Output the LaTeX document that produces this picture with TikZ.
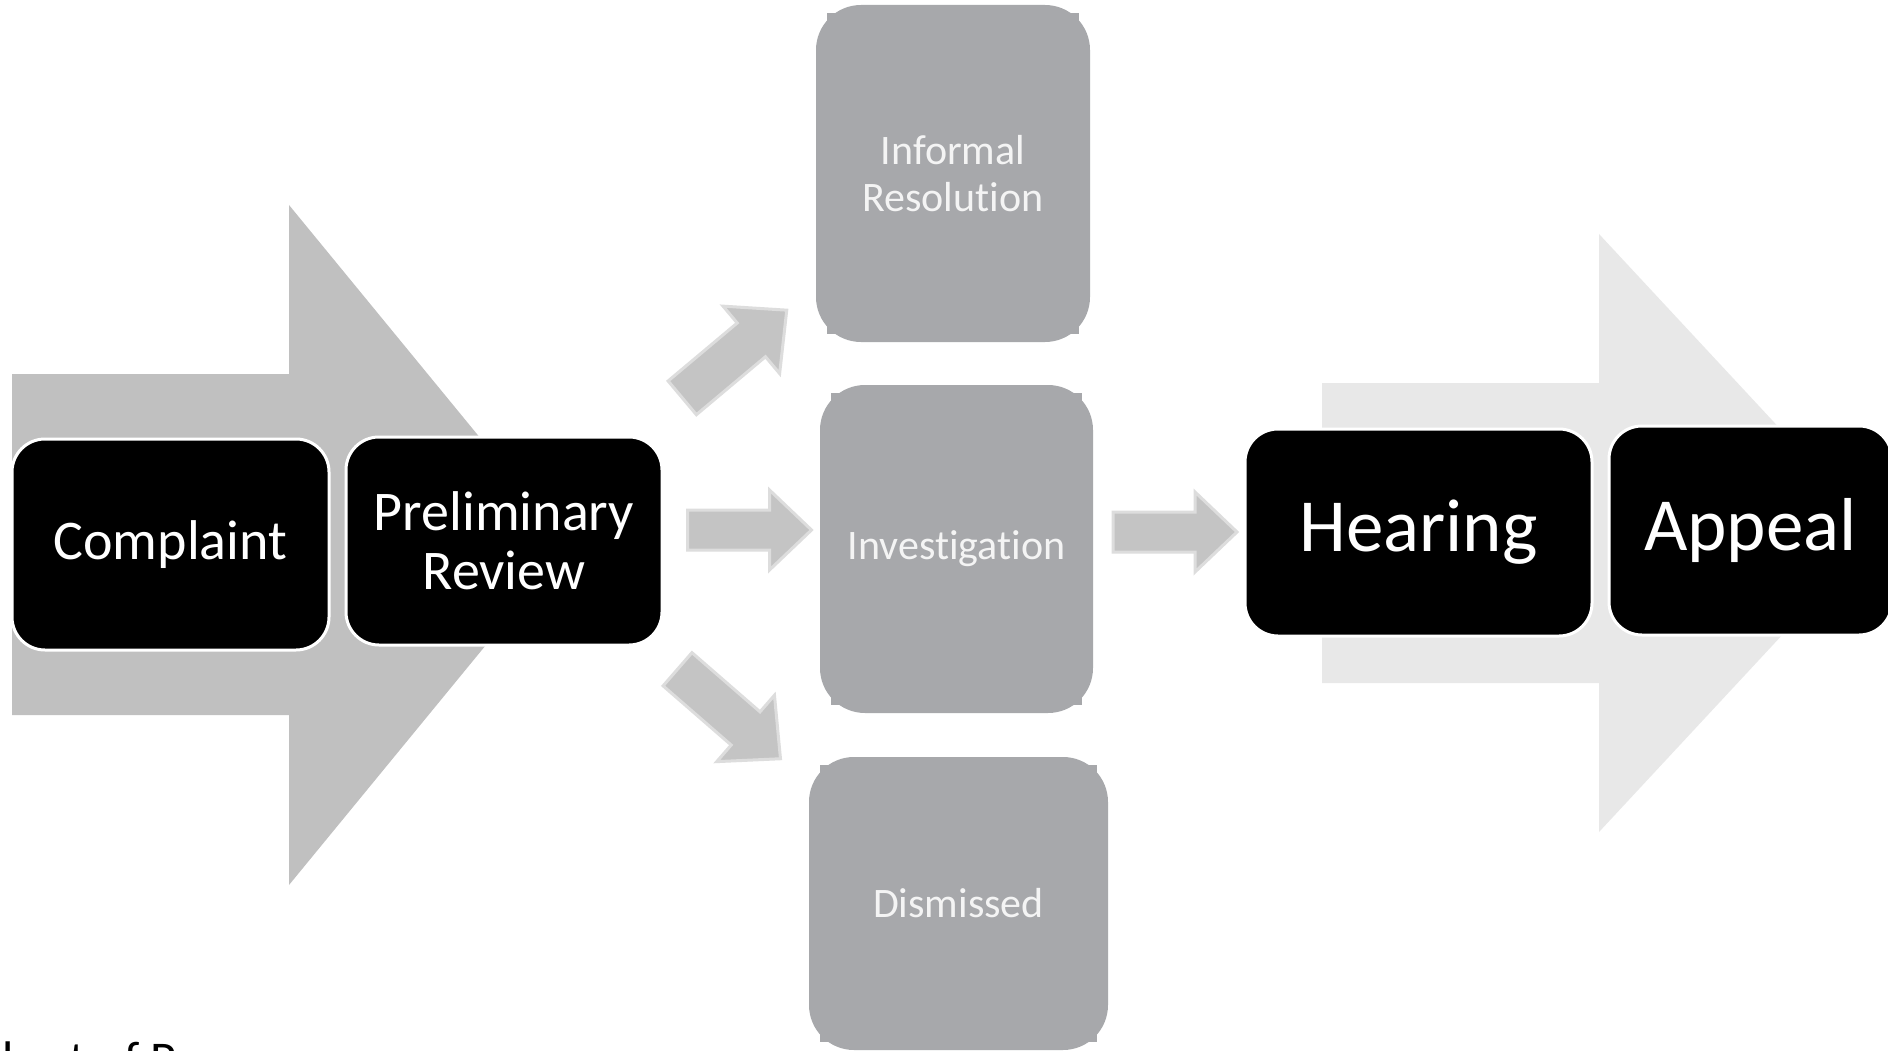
\documentclass[tikz,border=0pt]{standalone}
\usepackage{fontspec}
\setmainfont{Carlito}[Ligatures=NoCommon]
\definecolor{bigL}{RGB}{192,192,192}
\definecolor{bigR}{RGB}{232,232,232}
\definecolor{boxgray}{RGB}{167,168,171}
\definecolor{arrfill}{RGB}{196,196,196}
\definecolor{arredge}{RGB}{221,221,221}
\definecolor{gtext}{RGB}{244,244,244}
\newcommand\gtabs[1]{%
  \fill[boxgray] ([xshift=11pt,yshift=-8pt]#1.north west) rectangle ++(10pt,-10pt);
  \fill[boxgray] ([xshift=-11pt,yshift=-8pt]#1.north east) rectangle ++(-10pt,-10pt);
  \fill[boxgray] ([xshift=11pt,yshift=8pt]#1.south west) rectangle ++(10pt,10pt);
  \fill[boxgray] ([xshift=-11pt,yshift=8pt]#1.south east) rectangle ++(-10pt,10pt);}
\begin{document}
\begin{tikzpicture}[x=1pt,y=-1pt,
  blackbox/.style={rectangle, rounded corners=33pt, fill=black, draw=white, line width=3pt,
    text=white, align=center, inner sep=0pt},
  graybox/.style={rectangle, rounded corners=45pt, fill=boxgray, draw=none,
    text=gtext, align=center, inner sep=0pt, font=\fontsize{42}{47}\selectfont},
  smallfont/.style={font=\fontsize{56}{59}\selectfont},
  bigfont/.style={font=\fontsize{75}{80}\selectfont},
  smallarr/.style={fill=arrfill, draw=arredge, line width=3pt},
  blockarr/.pic={\draw[smallarr] (-62,-20) -- (20,-20) -- (20,-40) -- (62,0) -- (20,40) -- (20,20) -- (-62,20) -- cycle;}
]
\useasboundingbox (0,0) rectangle (1888,1051);
\fill[white] (0,0) rectangle (1888,1051);

% background big arrows
\fill[bigL] (12,374) -- (289,374) -- (289,205) -- (568,545) -- (289,885) -- (289,715) -- (12,715) -- cycle;
\fill[bigR] (1322,383) -- (1599,383) -- (1599,234) -- (1877,533) -- (1599,832) -- (1599,683) -- (1322,683) -- cycle;

% small block arrows
\pic[rotate=40, scale=1.1] at (734.5,354) {blockarr};
\pic at (749.5,530) {blockarr};
\pic[rotate=-41, scale=1.1] at (729,714) {blockarr};
\pic at (1175,532) {blockarr};

% black boxes
\node[blackbox, smallfont, minimum width=317pt, minimum height=211pt] (complaint) at (170.5,544.5) {\raisebox{-2pt}{Complaint}};
\node[blackbox, smallfont, minimum width=316pt, minimum height=208pt] (prelim) at (504,541) {Preliminary\\Review};
\node[blackbox, bigfont, minimum width=347pt, minimum height=207pt] (hearing) at (1418.5,532.5) {\raisebox{-4pt}{Hearing}};
\node[blackbox, bigfont, minimum width=283pt, minimum height=209pt] (appeal) at (1750.5,530.5) {\raisebox{-4pt}{Appeal}};

% gray boxes
\node[graybox, minimum width=274pt, minimum height=337pt] (informal) at (953,173.5) {Informal\\Resolut\kern0pt ion};
\node[graybox, minimum width=273pt, minimum height=328pt] (invest) at (956.5,549) {Investigat\kern0pt ion};
\node[graybox, minimum width=299pt, minimum height=293pt] (dismissed) at (958.5,903.5) {Dismissed};
\gtabs{informal}
\gtabs{invest}
\gtabs{dismissed}

% clipped caption at the bottom left
\node[anchor=base west, inner sep=0pt, font=\fontsize{50}{60}\selectfont] (caption) at (2,1076) {hart of P};
\end{tikzpicture}
\end{document}
